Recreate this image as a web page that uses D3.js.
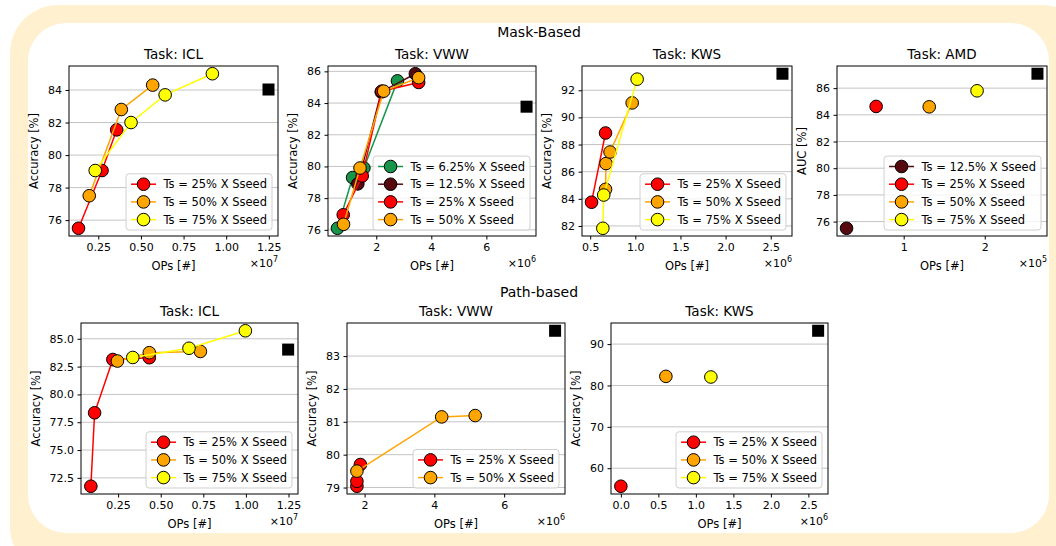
<!DOCTYPE html>
<html>
<head>
<meta charset="utf-8">
<script src="https://cdn.jsdelivr.net/npm/d3@7"></script>
<style>
body { margin: 0; background: #fff; font-family: "DejaVu Sans", sans-serif; }
</style>
</head>
<body>
<svg id="fig" width="1056" height="546"></svg>
<script>
// ---- data: [OPs, accuracy or AUC %] ----
var maskIclT25 = [[0.134e7, 75.5], [0.272e7, 79.05], [0.358e7, 81.55]];
var maskIclT50 = [[0.197e7, 77.5], [0.385e7, 82.8], [0.569e7, 84.3]];
var maskIclT75 = [[0.232e7, 79.05], [0.442e7, 82.0], [0.642e7, 83.7], [0.919e7, 85.0]];
var iclBaseline = [1.248e7, 84.03];

var maskVwwT6 = [[0.59e6, 76.1], [1.14e6, 79.3], [1.55e6, 79.9], [2.77e6, 85.4]];
var maskVwwT12 = [[1.33e6, 78.9], [2.18e6, 84.7], [3.42e6, 85.85]];
var maskVwwT25 = [[0.80e6, 76.95], [1.49e6, 79.4], [2.2e6, 84.75], [3.54e6, 85.3]];
var maskVwwT50 = [[0.81e6, 76.35], [1.41e6, 79.9], [2.27e6, 84.75], [3.54e6, 85.6]];
var vwwBaseline = [7.46e6, 83.77];

var maskKwsT25 = [[0.515e6, 83.75], [0.67e6, 88.85]];
var maskKwsT50 = [[0.67e6, 84.7], [0.675e6, 86.6], [0.72e6, 87.45], [0.965e6, 91.07]];
var maskKwsT75 = [[0.64e6, 81.83], [0.65e6, 84.28], [1.02e6, 92.82]];
var kwsBaseline = [2.63e6, 93.22];

var maskAmdT12 = [[0.295e5, 75.5]];
var maskAmdT25 = [[0.66e5, 84.63]];
var maskAmdT50 = [[1.315e5, 84.6]];
var maskAmdT75 = [[1.905e5, 85.8]];
var amdBaseline = [2.65e5, 87.08];

var pathIclT25 = [[0.09e7, 71.75], [0.112e7, 78.35], [0.219e7, 83.14], [0.433e7, 83.3]];
var pathIclT50 = [[0.246e7, 83.0], [0.433e7, 83.75], [0.733e7, 83.86]];
var pathIclT75 = [[0.336e7, 83.32], [0.666e7, 84.15], [0.997e7, 85.72]];

var pathVwwT25 = [[1.78e6, 79.04], [1.78e6, 79.19], [1.88e6, 79.7]];
var pathVwwT50 = [[1.78e6, 79.5], [4.21e6, 81.15], [5.17e6, 81.19]];

var pathKwsT25 = [[0.0, 55.65]];
var pathKwsT50 = [[0.6e6, 82.2]];
var pathKwsT75 = [[1.2e6, 82.05]];

// tick values
var iclXTicks = [0.25e7, 0.5e7, 0.75e7, 1.0e7, 1.25e7];
var vwwXTicks = [2e6, 4e6, 6e6];
var kwsMaskXTicks = [0.5e6, 1.0e6, 1.5e6, 2.0e6, 2.5e6];
var kwsPathXTicks = [0, 0.5e6, 1.0e6, 1.5e6, 2.0e6, 2.5e6];
var amdXTicks = [1e5, 2e5];
var maskYTicks = [76, 78, 80, 82, 84, 86];
var maskIclYTicks = [76, 78, 80, 82, 84];
var maskKwsYTicks = [82, 84, 86, 88, 90, 92];
var pathIclYTicks = [72.5, 75.0, 77.5, 80.0, 82.5, 85.0];
var pathVwwYTicks = [79, 80, 81, 82, 83];
var pathKwsYTicks = [60, 70, 80, 90];

var labels = {
  t6: "Ts = 6.25% X Sseed", t12: "Ts = 12.5% X Sseed",
  t25: "Ts = 25% X Sseed", t50: "Ts = 50% X Sseed", t75: "Ts = 75% X Sseed"
};
var colors = { t6: "#17964a", t12: "#560a10", t25: "#ff0000", t50: "#ffa500", t75: "#ffff00" };

var svg = d3.select("#fig");

// background frame
svg.append("rect").attr("x", 10).attr("y", 5).attr("width", 1080).attr("height", 570)
  .attr("rx", 48).attr("fill", "#fff0cf");
svg.append("rect").attr("x", 28).attr("y", 23).attr("width", 1021).attr("height", 510)
  .attr("rx", 38).attr("fill", "#fff");

svg.append("text").attr("x", 539).attr("y", 37).attr("text-anchor", "middle")
  .attr("font-size", 14).text("Mask-Based");
svg.append("text").attr("x", 539).attr("y", 297).attr("text-anchor", "middle")
  .attr("font-size", 14).text("Path-based");

function padded(vals) {
  var lo = d3.min(vals), hi = d3.max(vals), p = (hi - lo) * 0.05;
  return [lo - p, hi + p];
}

function panel(cfg) {
  var g = svg.append("g");
  var all = [cfg.base];
  cfg.series.forEach(function (s) { all = all.concat(s.data); });
  var x = d3.scaleLinear().domain(padded(all.map(function (d) { return d[0]; })))
    .range([cfg.left, cfg.right]);
  var y = d3.scaleLinear().domain(padded(all.map(function (d) { return d[1]; })))
    .range([cfg.bottom, cfg.top]);

  // grid
  g.selectAll("line.grid").data(cfg.yTicks).enter().append("line")
    .attr("x1", cfg.left).attr("x2", cfg.right)
    .attr("y1", function (d) { return y(d); }).attr("y2", function (d) { return y(d); })
    .attr("stroke", "#c4c4c4").attr("stroke-width", 1);

  // axes
  var xa = g.append("g").attr("transform", "translate(0," + cfg.bottom + ")")
    .call(d3.axisBottom(x).tickValues(cfg.xTicks).tickFormat(cfg.xFmt)
      .tickSize(3.5).tickPadding(3.5).tickSizeOuter(0));
  var ya = g.append("g").attr("transform", "translate(" + cfg.left + ",0)")
    .call(d3.axisLeft(y).tickValues(cfg.yTicks).tickFormat(cfg.yFmt)
      .tickSize(3.5).tickPadding(3.5).tickSizeOuter(0));
  [xa, ya].forEach(function (a) {
    a.select(".domain").remove();
    a.selectAll("text").attr("font-size", 11).attr("font-family", "DejaVu Sans").attr("fill", "#000");
    a.selectAll("line").attr("stroke", "#000");
  });
  var maxW = 0;
  ya.selectAll("text").each(function () { maxW = Math.max(maxW, this.getComputedTextLength()); });

  // series
  var line = d3.line().x(function (d) { return x(d[0]); }).y(function (d) { return y(d[1]); });
  cfg.series.forEach(function (s) {
    g.append("path").attr("d", line(s.data)).attr("fill", "none")
      .attr("stroke", colors[s.key]).attr("stroke-width", 1.5);
    g.selectAll(null).data(s.data).enter().append("circle")
      .attr("cx", function (d) { return x(d[0]); }).attr("cy", function (d) { return y(d[1]); })
      .attr("r", 6.3).attr("fill", colors[s.key]).attr("stroke", "#000").attr("stroke-width", 1);
  });
  g.append("rect").attr("x", x(cfg.base[0]) - 6).attr("y", y(cfg.base[1]) - 6)
    .attr("width", 12).attr("height", 12).attr("fill", "#000");

  // legend
  var lg = g.append("g");
  var n = cfg.series.length, rowH = 17.7;
  var h = 20.8 + (n - 1) * rowH;
  var box = lg.append("rect").attr("rx", 3).attr("fill", "#fff").attr("fill-opacity", 0.8)
    .attr("stroke", "#d0d0d0").attr("stroke-width", 1);
  var tw = 0;
  var items = cfg.series.map(function (s, i) {
    var it = lg.append("g");
    it.append("line").attr("x1", 5).attr("x2", 30).attr("y1", 10.4 + i * rowH).attr("y2", 10.4 + i * rowH)
      .attr("stroke", colors[s.key]).attr("stroke-width", 1.5);
    it.append("circle").attr("cx", 17.5).attr("cy", 10.4 + i * rowH).attr("r", 6.3)
      .attr("fill", colors[s.key]).attr("stroke", "#000");
    var t = it.append("text").attr("x", 37.4).attr("y", 10.4 + i * rowH).attr("dy", "0.36em")
      .attr("font-size", 11.5).text(labels[s.key]);
    tw = Math.max(tw, t.node().getComputedTextLength());
    return it;
  });
  var w = 37.4 + tw + 5;
  box.attr("width", w).attr("height", h);
  lg.attr("transform", "translate(" + (cfg.right - 6 - w) + "," + (cfg.bottom - 6 - h) + ")");

  // frame
  g.append("rect").attr("x", cfg.left).attr("y", cfg.top)
    .attr("width", cfg.right - cfg.left).attr("height", cfg.bottom - cfg.top)
    .attr("fill", "none").attr("stroke", "#000").attr("stroke-width", 1);

  // titles and labels
  g.append("text").attr("x", (cfg.left + cfg.right) / 2).attr("y", cfg.top - 7.5)
    .attr("text-anchor", "middle").attr("font-size", 13.5).text(cfg.title);
  g.append("text").attr("x", (cfg.left + cfg.right) / 2).attr("y", cfg.bottom + 34)
    .attr("text-anchor", "middle").attr("font-size", 11.5).text("OPs [#]");
  var lx = cfg.left - 7 - maxW - 10;
  g.append("text").attr("transform", "translate(" + lx + "," + ((cfg.top + cfg.bottom) / 2) + ") rotate(-90)")
    .attr("text-anchor", "middle").attr("font-size", 11.5).text(cfg.yLabel);
  var ex = g.append("text").attr("x", cfg.right).attr("y", cfg.bottom + 31)
    .attr("text-anchor", "end").attr("font-size", 11);
  ex.append("tspan").text("\u00d710");
  ex.append("tspan").attr("dy", -5).attr("font-size", 8).text(cfg.exp);
}

function fmt(div, digits) {
  return function (d) { return (d / div).toFixed(digits); };
}
var intFmt = function (d) { return d3.format("d")(d); };

panel({ title: "Task: ICL", left: 69, right: 278, top: 66, bottom: 236,
  series: [{ key: "t25", data: maskIclT25 }, { key: "t50", data: maskIclT50 }, { key: "t75", data: maskIclT75 }],
  base: iclBaseline, xTicks: iclXTicks, xFmt: fmt(1e7, 2), yTicks: maskIclYTicks, yFmt: intFmt,
  yLabel: "Accuracy [%]", exp: "7" });
panel({ title: "Task: VWW", left: 328, right: 536, top: 66, bottom: 236,
  series: [{ key: "t6", data: maskVwwT6 }, { key: "t12", data: maskVwwT12 },
           { key: "t25", data: maskVwwT25 }, { key: "t50", data: maskVwwT50 }],
  base: vwwBaseline, xTicks: vwwXTicks, xFmt: fmt(1e6, 0), yTicks: maskYTicks, yFmt: intFmt,
  yLabel: "Accuracy [%]", exp: "6" });
panel({ title: "Task: KWS", left: 582, right: 792, top: 66, bottom: 236,
  series: [{ key: "t25", data: maskKwsT25 }, { key: "t50", data: maskKwsT50 }, { key: "t75", data: maskKwsT75 }],
  base: kwsBaseline, xTicks: kwsMaskXTicks, xFmt: fmt(1e6, 1), yTicks: maskKwsYTicks, yFmt: intFmt,
  yLabel: "Accuracy [%]", exp: "6" });
panel({ title: "Task: AMD", left: 837, right: 1047, top: 66, bottom: 236,
  series: [{ key: "t12", data: maskAmdT12 }, { key: "t25", data: maskAmdT25 },
           { key: "t50", data: maskAmdT50 }, { key: "t75", data: maskAmdT75 }],
  base: amdBaseline, xTicks: amdXTicks, xFmt: fmt(1e5, 0), yTicks: maskYTicks, yFmt: intFmt,
  yLabel: "AUC [%]", exp: "5" });
panel({ title: "Task: ICL", left: 81, right: 298, top: 323, bottom: 494,
  series: [{ key: "t25", data: pathIclT25 }, { key: "t50", data: pathIclT50 }, { key: "t75", data: pathIclT75 }],
  base: iclBaseline, xTicks: iclXTicks, xFmt: fmt(1e7, 2), yTicks: pathIclYTicks, yFmt: fmt(1, 1),
  yLabel: "Accuracy [%]", exp: "7" });
panel({ title: "Task: VWW", left: 347, right: 565, top: 323, bottom: 494,
  series: [{ key: "t25", data: pathVwwT25 }, { key: "t50", data: pathVwwT50 }],
  base: vwwBaseline, xTicks: vwwXTicks, xFmt: fmt(1e6, 0), yTicks: pathVwwYTicks, yFmt: intFmt,
  yLabel: "Accuracy [%]", exp: "6" });
panel({ title: "Task: KWS", left: 611, right: 828, top: 323, bottom: 494,
  series: [{ key: "t25", data: pathKwsT25 }, { key: "t50", data: pathKwsT50 }, { key: "t75", data: pathKwsT75 }],
  base: kwsBaseline, xTicks: kwsPathXTicks, xFmt: fmt(1e6, 1), yTicks: pathKwsYTicks, yFmt: intFmt,
  yLabel: "Accuracy [%]", exp: "6" });
</script>
</body>
</html>
